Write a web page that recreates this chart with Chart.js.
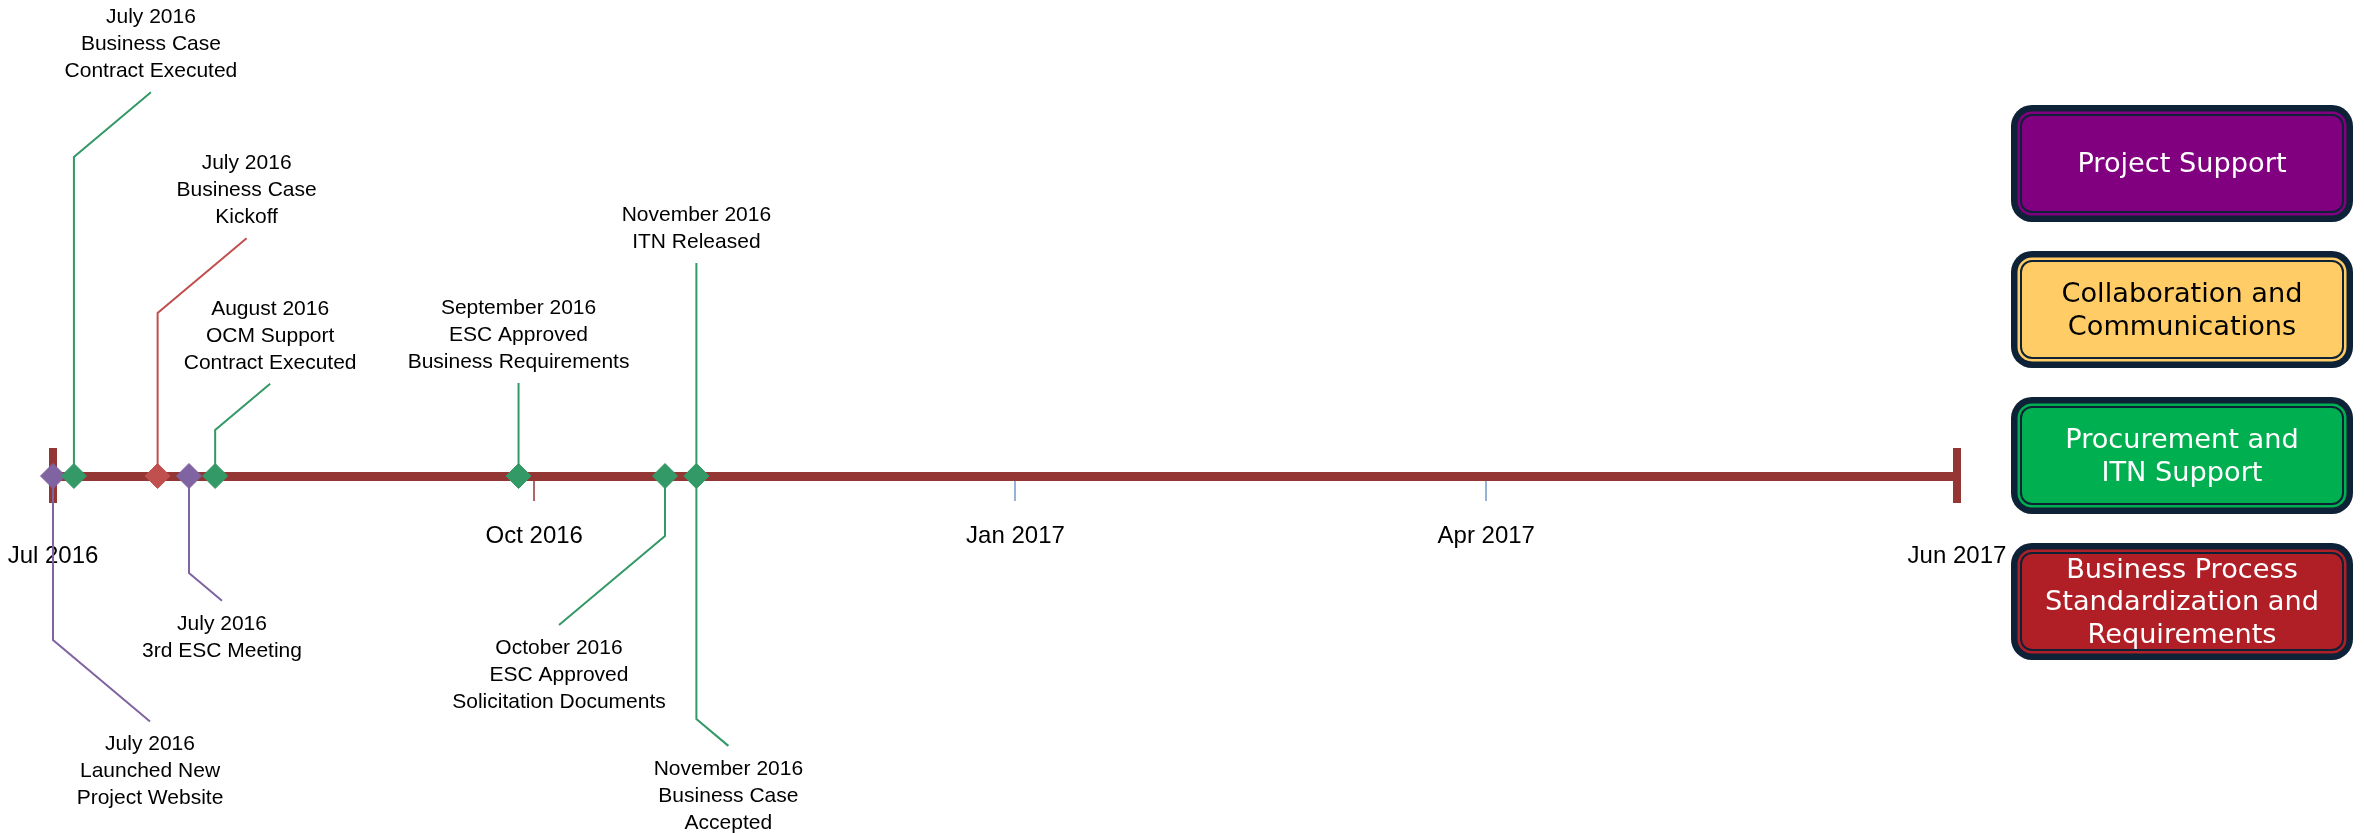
<!DOCTYPE html>
<html>
<head>
<meta charset="utf-8">
<title>Project Timeline FY 2016-17</title>
<script src="https://cdn.jsdelivr.net/npm/chart.js@4.4.1/dist/chart.umd.min.js"></script>
<style>
  html, body { margin: 0; padding: 0; background: #fff; }
  #wrap { position: relative; width: 2364px; height: 833px; overflow: hidden; }
  #chart-box { position: absolute; left: 0; top: 0; width: 2364px; height: 833px; }
  .legend-box {
    position: absolute;
    left: 2020px;
    width: 324px;
    height: 99px;
    box-sizing: border-box;
    border: 2px solid #0d2137;
    border-radius: 12px;
    display: flex;
    align-items: center;
    justify-content: center;
    text-align: center;
    font-family: 'DejaVu Sans', Verdana, sans-serif;
    font-size: 27.2px;
    line-height: 32.5px;
  }
</style>
</head>
<body>
<div id="wrap">
  <div id="chart-box"><canvas id="timeline"></canvas></div>
</div>

<script>
// ── Data ─────────────────────────────────────────
const startDate = '2016-07-01';
const endDate = '2017-06-30';

const tickDates = ['2016-07-01', '2016-10-01', '2017-01-01', '2017-04-01', '2017-06-30'];
const tickLabels = ['Jul 2016', 'Oct 2016', 'Jan 2017', 'Apr 2017', 'Jun 2017'];

const categories = [
  'Project Support',
  'Collaboration and Communications',
  'Procurement and ITN Support',
  'Business Process Standardization and Requirements',
];

const eventDates = [
  '2016-07-01', '2016-07-05', '2016-07-21', '2016-07-27', '2016-08-01',
  '2016-09-28', '2016-10-26', '2016-11-01', '2016-11-01',
];
const eventMonths = [
  'July 2016', 'July 2016', 'July 2016', 'July 2016', 'August 2016',
  'September 2016', 'October 2016', 'November 2016', 'November 2016',
];
const eventTitles = [
  ['Launched New', 'Project Website'],
  ['Business Case', 'Contract Executed'],
  ['Business Case', 'Kickoff'],
  ['3rd ESC Meeting'],
  ['OCM Support', 'Contract Executed'],
  ['ESC Approved', 'Business Requirements'],
  ['ESC Approved', 'Solicitation Documents'],
  ['ITN Released'],
  ['Business Case', 'Accepted'],
];
const eventCategory = [0, 2, 3, 0, 2, 2, 2, 2, 2];

// ── Styles / layout (kept apart from the data) ───
const AXIS_COLOR = '#943634';
const LABEL_FONT = "'Liberation Sans', Arial, sans-serif";
const markerColors = ['#8064a2', '#f6c25a', '#339966', '#c0504d'];
const boxFills = ['#800080', '#ffcc66', '#00b050', '#b01f26'];
const boxText = ['#ffffff', '#000000', '#ffffff', '#ffffff'];
const boxTops = [114, 260, 406, 552];
const boxLines = [
  ['Project Support'],
  ['Collaboration and', 'Communications'],
  ['Procurement and', 'ITN Support'],
  ['Business Process', 'Standardization and', 'Requirements'],
];
const tickMarkColors = ['rgba(0,0,0,0)', AXIS_COLOR, '#95b3d7', '#95b3d7', 'rgba(0,0,0,0)'];
const loweredTicks = [true, false, false, false, true];

// callout leaders: side (-1 up, 1 down), vertical stem px, diagonal dx px
const callouts = [
  { side: 1, stem: 164, dx: 97 },
  { side: -1, stem: 319, dx: 77 },
  { side: -1, stem: 163, dx: 89 },
  { side: 1, stem: 97, dx: 33 },
  { side: -1, stem: 46, dx: 55 },
  { side: -1, stem: 93, dx: 0 },
  { side: 1, stem: 60, dx: -106 },
  { side: -1, stem: 213, dx: 0 },
  { side: 1, stem: 243, dx: 32 },
];
const SLOPE = 0.84;
const GAP_DOWN = 23;
const GAP_UP = 21;
const LINE_STEP = 27;

// ── Helpers ──────────────────────────────────────
const DAY_MS = 86400000;
function dayOf(iso) {
  return (Date.parse(iso) - Date.parse(startDate)) / DAY_MS;
}

// ── Legend boxes (HTML) ──────────────────────────
const wrap = document.getElementById('wrap');
categories.forEach((name, i) => {
  const el = document.createElement('div');
  el.className = 'legend-box';
  el.title = name;
  el.style.top = boxTops[i] + 'px';
  el.style.background = boxFills[i];
  el.style.color = boxText[i];
  el.style.boxShadow = `0 0 0 2.5px ${boxFills[i]}, 0 0 0 9px #0d2137`;
  el.innerHTML = '<div>' + boxLines[i].join('<br>') + '</div>';
  wrap.appendChild(el);
});

// ── Callout plugin: end caps, leaders and labels ─
const calloutPlugin = {
  id: 'callouts',
  beforeDatasetsDraw(chart) {
    const ctx = chart.ctx;
    const xs = chart.scales.x;
    const y0 = chart.scales.y.getPixelForValue(0);
    ctx.save();
    ctx.fillStyle = AXIS_COLOR;
    [dayOf(startDate), dayOf(endDate)].forEach((v) => {
      const px = xs.getPixelForValue(v);
      ctx.fillRect(px - 4, y0 - 28, 8, 55);
    });
    const pts = chart.getDatasetMeta(0).data;
    ctx.lineWidth = 2;
    callouts.forEach((c, i) => {
      const p = pts[i];
      const elbowY = p.y + c.side * c.stem;
      ctx.strokeStyle = markerColors[eventCategory[i]];
      ctx.beginPath();
      ctx.moveTo(p.x, p.y);
      ctx.lineTo(p.x, elbowY);
      if (c.dx !== 0) ctx.lineTo(p.x + c.dx, elbowY + c.side * Math.abs(c.dx) * SLOPE);
      ctx.stroke();
    });
    ctx.restore();
  },
  afterDatasetsDraw(chart) {
    const ctx = chart.ctx;
    const pts = chart.getDatasetMeta(0).data;
    ctx.save();
    ctx.font = `21px ${LABEL_FONT}`;
    ctx.fillStyle = '#000';
    ctx.textAlign = 'center';
    ctx.textBaseline = 'middle';
    callouts.forEach((c, i) => {
      const p = pts[i];
      const endX = p.x + c.dx;
      const endY = p.y + c.side * (c.stem + Math.abs(c.dx) * SLOPE);
      const lines = [eventMonths[i], ...eventTitles[i]];
      lines.forEach((txt, k) => {
        const y = c.side > 0
          ? endY + GAP_DOWN + k * LINE_STEP
          : endY - GAP_UP - (lines.length - 1 - k) * LINE_STEP;
        ctx.fillText(txt, endX, y);
      });
    });
    ctx.restore();
  },
};

// ── Chart ────────────────────────────────────────
Chart.defaults.font.family = LABEL_FONT;
Chart.defaults.color = '#000';

new Chart(document.getElementById('timeline').getContext('2d'), {
  type: 'scatter',
  data: {
    datasets: [{
      label: 'Milestones',
      data: eventDates.map((d) => ({ x: dayOf(d), y: 0 })),
      pointStyle: 'rectRot',
      pointRadius: 12.5,
      borderWidth: 1,
      backgroundColor: eventCategory.map((c) => markerColors[c]),
      borderColor: eventCategory.map((c) => markerColors[c]),
      clip: false,
    }],
  },
  options: {
    responsive: true,
    maintainAspectRatio: false,
    animation: false,
    events: [],
    layout: { padding: { left: 53, right: 407, top: 30, bottom: 30 } },
    plugins: {
      legend: { display: false },
      tooltip: { enabled: false },
    },
    scales: {
      x: {
        type: 'linear',
        min: dayOf(startDate),
        max: dayOf(endDate),
        position: { y: 0 },
        border: { display: true, color: AXIS_COLOR, width: 9 },
        grid: {
          drawOnChartArea: false,
          drawTicks: true,
          tickLength: 20,
          tickColor: (ctx) => tickMarkColors[ctx.index],
          tickWidth: (ctx) => (ctx.index === 1 ? 1.5 : 2),
          lineWidth: 2,
        },
        afterBuildTicks: (scale) => {
          scale.ticks = tickDates.map((d) => ({ value: dayOf(d) }));
        },
        afterFit: (scale) => {
          scale.paddingLeft = 0;
          scale.paddingRight = 0;
        },
        ticks: {
          autoSkip: false,
          minRotation: 0,
          maxRotation: 0,
          padding: 30,
          color: '#000',
          font: { family: LABEL_FONT, size: 24, lineHeight: '20px' },
          callback: (v, i) => (loweredTicks[i] ? ['', tickLabels[i]] : tickLabels[i]),
        },
      },
      // y in pixel units around the timeline (chart area 30..803, timeline at 476)
      y: { type: 'linear', display: false, min: -327, max: 446 },
    },
  },
  plugins: [calloutPlugin],
});
</script>
</body>
</html>
